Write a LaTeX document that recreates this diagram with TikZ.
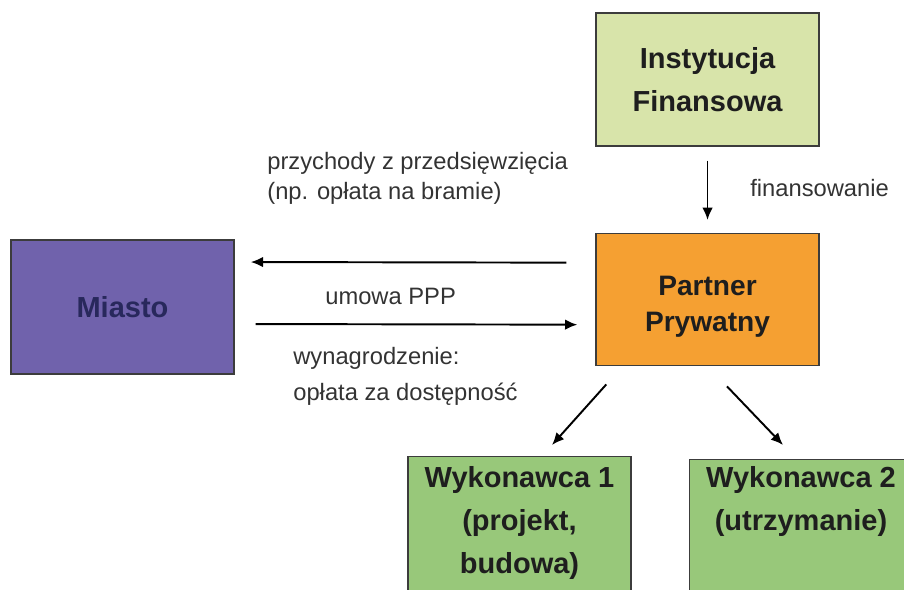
\documentclass[tikz,border=0pt]{standalone}
\usepackage{fontspec}
\setmainfont{Liberation Sans}
\usetikzlibrary{arrows.meta}

\definecolor{lila}{RGB}{112,98,172}
\definecolor{lilatext}{RGB}{40,40,92}
\definecolor{hellgruen}{RGB}{216,228,170}
\definecolor{pomarancz}{RGB}{245,160,50}
\definecolor{gruen}{RGB}{152,200,122}
\definecolor{rand}{RGB}{60,60,60}
\definecolor{schrift}{RGB}{51,51,51}
\definecolor{kastenschrift}{RGB}{30,30,30}

\newcommand{\obentext}[3]{\parbox[c][#1][t]{4.46cm}{\centering\vspace*{#2}#3}}

\tikzset{
  kasten/.style={draw=rand, line width=0.8pt, inner sep=0pt, minimum width=4.46cm, align=center,
    text=kastenschrift, font=\fontsize{16.5}{24.5}\selectfont\bfseries},
  beschriftung/.style={inner sep=0pt, align=left, text=schrift, font=\fontsize{13.5}{17}\selectfont},
  pfeil/.style={line width=1.1pt, -{Latex[length=7pt,width=6pt]}},
}

\begin{document}
\begin{tikzpicture}

   \useasboundingbox (0,0) rectangle (18.08,11.78);
   \clip (0,0) rectangle (18.08,11.78);

   % Kaesten
   \node [kasten, fill=hellgruen, minimum height=2.66cm] (inst) at (14.15,10.19) {Instytucja\\Finansowa};
   \node [kasten, fill=pomarancz, anchor=north, font=\fontsize{16}{21}\selectfont\bfseries] (partner) at (14.15,7.12)
      {\obentext{2.64cm}{0.84cm}{Partner\\Prywatny}};
   \node [kasten, fill=lila, text=lilatext, minimum height=2.68cm] (miasto) at (2.45,5.64) {Miasto};
   \node [kasten, fill=gruen, anchor=north] (wyk1) at (10.39,2.66) {\obentext{3.5cm}{0.2cm}{Wykonawca 1\\(projekt,\\budowa)}};
   \node [kasten, fill=gruen, anchor=north] (wyk2) at (16.02,2.6) {\obentext{3.5cm}{0.14cm}{Wykonawca 2\\(utrzymanie)}};

   % Beschriftungen
   \node [beschriftung, anchor=north west] (przychody) at (5.34,8.74) {przychody z przedsięwzięcia\\(np. opłata na bramie)};
   \node [beschriftung, anchor=west] (fin) at (15.0,8.02) {finansowanie};
   \node [beschriftung, anchor=west] (umowa) at (6.5,5.86) {umowa PPP};
   \node [beschriftung, anchor=north west] (wynagr) at (5.86,4.84) {wynagrodzenie:\\[3.4pt]opłata za dostępność};

   % Pfeile
   \draw [pfeil, shorten <=0.28cm, shorten >=0.26cm] (inst) -- (partner);
   \draw [pfeil, shorten <=0.58cm, shorten >=0.32cm] ([yshift=0.74cm]partner.west) -- ([yshift=0.9cm]miasto.east);
   \draw [pfeil, shorten <=0.42cm, shorten >=0.36cm] ([yshift=-0.34cm]miasto.east) -- ([yshift=-0.5cm]partner.west);
   \draw [pfeil] ([shift={(0.22,-0.36)}]partner.south west) -- ([shift={(0.65,0.22)}]wyk1.north);
   \draw [pfeil] ([shift={(0.39,-0.4)}]partner.south) -- ([shift={(-0.36,0.28)}]wyk2.north);

\end{tikzpicture}
\end{document}
